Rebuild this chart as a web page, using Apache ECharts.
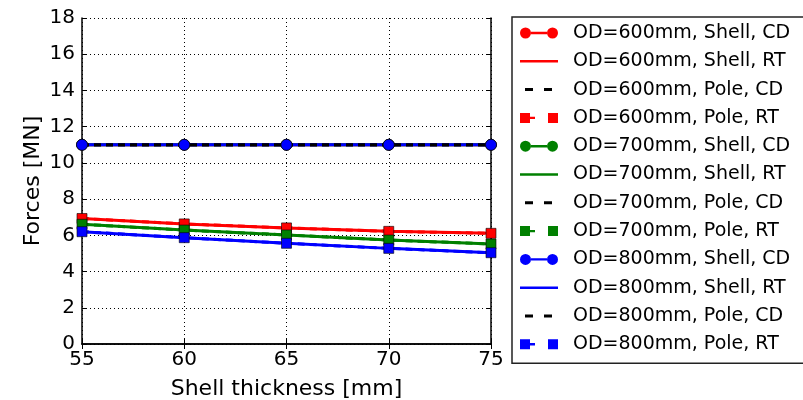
<!DOCTYPE html>
<html>
<head>
<meta charset="utf-8">
<script src="https://cdn.jsdelivr.net/npm/echarts@6/dist/echarts.min.js"></script>
<style>html,body{margin:0;padding:0;background:#fff}#c{width:803px;height:400px}</style>
</head>
<body>
<div id="c"></div>
<script>
// ---- data ----
const thickness = [55, 60, 65, 70, 75];
const yTicks = [0, 2, 4, 6, 8, 10, 12, 14, 16, 18];
const xTicks = [55, 60, 65, 70, 75];
const diameters = ['600', '700', '800'];
const shellCD600 = [11, 11, 11, 11, 11];
const shellCD700 = [11, 11, 11, 11, 11];
const shellCD800 = [11, 11, 11, 11, 11];
const shellRT600 = [6.93, 6.63, 6.41, 6.22, 6.11];
const shellRT700 = [6.61, 6.29, 6.02, 5.74, 5.52];
const shellRT800 = [6.20, 5.87, 5.56, 5.28, 5.04];
const poleCD600 = [11, 11, 11, 11, 11];
const poleCD700 = [11, 11, 11, 11, 11];
const poleCD800 = [11, 11, 11, 11, 11];
const poleRT600 = [6.93, 6.63, 6.41, 6.22, 6.11];
const poleRT700 = [6.61, 6.29, 6.02, 5.74, 5.52];
const poleRT800 = [6.20, 5.87, 5.56, 5.28, 5.04];

const colors = { '600': '#ff0000', '700': '#008000', '800': '#0000ff' };
const dataByOD = {
  '600': { shellCD: shellCD600, shellRT: shellRT600, poleCD: poleCD600, poleRT: poleRT600 },
  '700': { shellCD: shellCD700, shellRT: shellRT700, poleCD: poleCD700, poleRT: poleRT700 },
  '800': { shellCD: shellCD800, shellRT: shellRT800, poleCD: poleCD800, poleRT: poleRT800 }
};

// legend icons (bbox 38 x 11)
const corners = 'M0 0 L0 0 Z M38 11 L38 11 Z ';
const iconCircleLine = 'path://M0 5.5 A5.5 5.5 0 1 0 11 5.5 A5.5 5.5 0 1 0 0 5.5 Z M27 5.5 A5.5 5.5 0 1 0 38 5.5 A5.5 5.5 0 1 0 27 5.5 Z M11 4.3 L27 4.3 L27 6.7 L11 6.7 Z';
const iconLine = 'path://' + corners + 'M0 4.3 L38 4.3 L38 6.7 L0 6.7 Z';
const iconDash = 'path://' + corners + 'M5 4 L13 4 L13 7 L5 7 Z M24 4 L32 4 L32 7 L24 7 Z';
const iconSquareDash = 'path://' + corners + 'M0 0.5 L10 0.5 L10 10.5 L0 10.5 Z M28 0.5 L38 0.5 L38 10.5 L28 10.5 Z M10 4.3 L15 4.3 L15 6.7 L10 6.7 Z';

const pts = arr => thickness.map((t, i) => [t, arr[i]]);

const series = [];
const legendData = [];
diameters.forEach(od => {
  const c = colors[od];
  const d = dataByOD[od];
  const base = 'OD=' + od + 'mm, ';
  series.push({
    name: base + 'Shell, CD', type: 'line', data: pts(d.shellCD), clip: false,
    symbol: 'circle', symbolSize: 11, showSymbol: true,
    lineStyle: { color: c, width: 3 },
    itemStyle: { color: c, borderColor: '#000', borderWidth: 0.6 }
  });
  legendData.push({ name: base + 'Shell, CD', icon: iconCircleLine, itemStyle: { color: c, borderWidth: 0 } });
  series.push({
    name: base + 'Shell, RT', type: 'line', data: pts(d.shellRT), clip: false,
    symbol: 'none',
    lineStyle: { color: c, width: 3 },
    itemStyle: { color: c }
  });
  legendData.push({ name: base + 'Shell, RT', icon: iconLine, itemStyle: { color: c, borderWidth: 0 } });
  series.push({
    name: base + 'Pole, CD', type: 'line', data: pts(d.poleCD), clip: false,
    symbol: 'none',
    lineStyle: { color: '#000', width: 3, type: [7, 5] },
    itemStyle: { color: '#000' }
  });
  legendData.push({ name: base + 'Pole, CD', icon: iconDash, itemStyle: { color: '#000', borderWidth: 0 } });
  series.push({
    name: base + 'Pole, RT', type: 'line', data: pts(d.poleRT), clip: false,
    symbol: 'rect', symbolSize: 10, showSymbol: true,
    lineStyle: { color: c, width: 3, type: [7, 5] },
    itemStyle: { color: c, borderColor: '#000', borderWidth: 0.6 }
  });
  legendData.push({ name: base + 'Pole, RT', icon: iconSquareDash, itemStyle: { color: c, borderWidth: 0 } });
});

const font = 'DejaVu Sans';
const tickStyle = { show: true, inside: true, length: 5, lineStyle: { color: '#000', width: 1 } };
const lineStyle = { show: true, lineStyle: { color: '#000', width: 1.5 } };
const gridLine = { show: true, lineStyle: { color: '#000', width: 1, type: [1, 3] } };

const chart = echarts.init(document.getElementById('c'), null, { renderer: 'canvas' });
chart.setOption({
  animation: false,
  backgroundColor: '#fff',
  textStyle: { fontFamily: font },
  grid: { left: 82, right: 312, top: 18, bottom: 56, containLabel: false, outerBoundsMode: 'none' },
  xAxis: [
    {
      type: 'value', min: xTicks[0], max: xTicks[xTicks.length - 1], interval: 5,
      name: 'Shell thickness [mm]', nameLocation: 'middle', nameGap: 34, nameMoveOverlap: false,
      nameTextStyle: { fontFamily: font, fontSize: 22, color: '#000' },
      axisLine: lineStyle, axisTick: tickStyle, splitLine: gridLine,
      axisLabel: { fontFamily: font, fontSize: 20, color: '#000', margin: 6 }
    },
    {
      type: 'value', position: 'top', min: xTicks[0], max: xTicks[xTicks.length - 1], interval: 5,
      axisLine: lineStyle, axisTick: tickStyle, splitLine: { show: false }, axisLabel: { show: false }
    }
  ],
  yAxis: [
    {
      type: 'value', min: yTicks[0], max: yTicks[yTicks.length - 1], interval: 2,
      name: 'Forces [MN]', nameLocation: 'middle', nameGap: 38, nameMoveOverlap: false,
      nameTextStyle: { fontFamily: font, fontSize: 22, color: '#000' },
      axisLine: lineStyle, axisTick: tickStyle, splitLine: gridLine,
      axisLabel: { fontFamily: font, fontSize: 20, color: '#000', margin: 7 }
    },
    {
      type: 'value', position: 'right', min: yTicks[0], max: yTicks[yTicks.length - 1], interval: 2,
      axisLine: lineStyle, axisTick: tickStyle, splitLine: { show: false }, axisLabel: { show: false }
    }
  ],
  legend: {
    orient: 'vertical', left: 512, top: 17,
    padding: [6, 14, 9, 8],
    borderColor: '#222', borderWidth: 1.5,
    itemWidth: 38, itemHeight: 11, itemGap: 8.3,
    selectedMode: false,
    textStyle: { fontFamily: font, fontSize: 19, color: '#000', lineHeight: 20, padding: [0, 0, 0, 10] },
    data: legendData
  },
  series: series
});
</script>
</body>
</html>
